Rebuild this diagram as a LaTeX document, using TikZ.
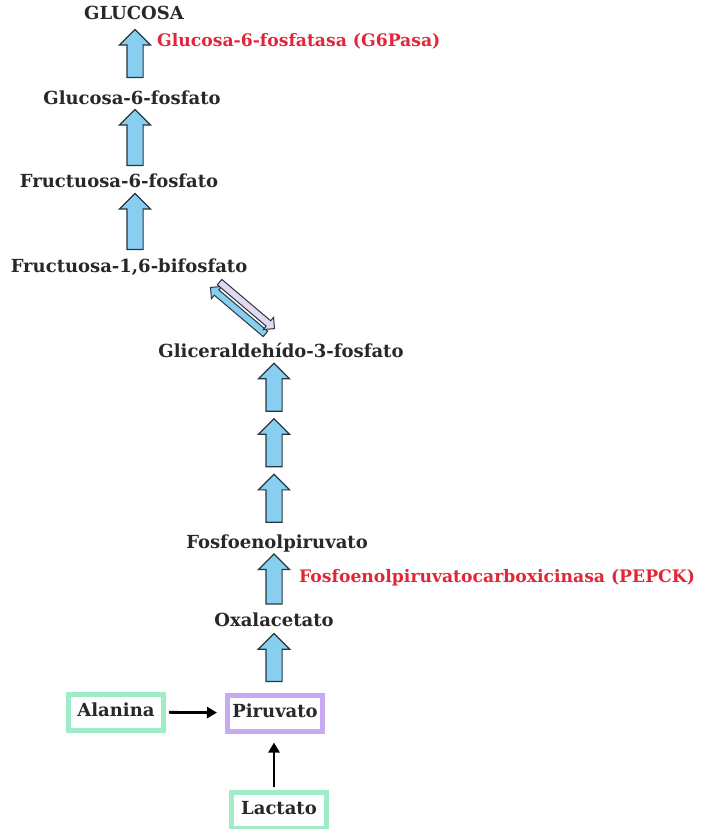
\documentclass[tikz,border=0pt]{standalone}
\usepackage{fontspec}
\setmainfont{DejaVu Serif}
\usetikzlibrary{shapes.arrows,arrows.meta}
\definecolor{texto}{RGB}{40,40,40}
\definecolor{enzrojo}{RGB}{226,38,56}
\definecolor{celeste}{RGB}{135,206,240}
\definecolor{lila}{RGB}{226,216,242}
\definecolor{borde}{RGB}{40,55,62}
\definecolor{menta}{RGB}{160,236,200}
\definecolor{violeta}{RGB}{200,170,240}
\tikzset{
  metab/.style={font=\fontsize{18}{20}\selectfont\bfseries, text=texto, inner sep=0pt, text height=13pt, text depth=4pt},
  enzima/.style={metab, font=\fontsize{17.2}{20}\selectfont\bfseries, text=enzrojo, anchor=west},
  caja/.style={metab, draw=#1, line width=5pt, minimum width=95pt, minimum height=36pt},
  flechaup/.style={single arrow, draw=borde, fill=celeste, line width=1.2pt, inner sep=0pt,
    text height=15pt, text depth=0pt, minimum width=30pt, single arrow head extend=7.5pt,
    minimum height=#1, rotate=90},
  flechaup/.default=50pt,
  flechafina/.style={single arrow, draw=borde, fill=#1, line width=1pt, inner sep=0pt,
    text height=6pt, text depth=0pt, minimum width=15pt, single arrow head extend=4.5pt,
    minimum height=72pt, sloped, allow upside down},
  flechanegra/.style={line width=2.8pt, -{Triangle[length=10pt,width=11pt]}}
}
\begin{document}
\begin{tikzpicture}[x=1pt,y=-1pt]
\useasboundingbox (0,0) rectangle (710,829);
\fill[white] (0,0) rectangle (710,829);
\coordinate (ejeA) at (135,0);
\coordinate (ejeB) at (274,0);
\node[metab] (glu) at (134,15) {GLUCOSA};
\node[metab] (g6p) at (132,100) {Glucosa-6-fosfato};
\node[metab] (f6p) at (119,183) {Fructuosa-6-fosfato};
\node[metab] (fbp) at (129,268) {Fructuosa-1,6-bifosfato};
\node[metab] (g3p) at (281,353) {Gliceraldehído-3-fosfato};
\node[metab] (pep) at (277,544) {Fosfoenolpiruvato};
\node[metab] (oaa) at (274,622) {Oxalacetato};
\node[caja=violeta] (pir) at (275,713) {Piruvato};
\node[caja=menta] (ala) at (116,712) {Alanina};
\node[caja=menta] (lac) at (279,810) {Lactato};
\node[enzima] (g6pasa) at (157,42) {Glucosa-6-fosfatasa (G6Pasa)};
\node[enzima] (pepck) at (299,578) {Fosfoenolpiruvatocarboxicinasa (PEPCK)};
\path (g6p.north -| ejeA) -- node[flechaup=48pt] {} (glu.south -| ejeA);
\path (f6p.north -| ejeA) -- node[flechaup=56pt] {} (g6p.south -| ejeA);
\path (fbp.north -| ejeA) -- node[flechaup=56pt] {} (f6p.south -| ejeA);
\coordinate (dA) at (213,283);
\coordinate (dB) at (272,333);
\path ([shift={(-3.2,3.8)}]dB) -- node[flechafina=celeste] {} ([shift={(-3.2,3.8)}]dA);
\path ([shift={(3.2,-3.8)}]dA) -- node[flechafina=lila] {} ([shift={(3.2,-3.8)}]dB);
\path (pep.north -| ejeB) -- node[pos=.19,flechaup=48pt] {} node[pos=.51,flechaup=48pt] {}
  node[pos=.83,flechaup=48pt] {} (g3p.south -| ejeB);
\path (oaa.north -| ejeB) -- node[flechaup] {} (pep.south -| ejeB);
\path (pir.north -| ejeB) -- node[flechaup=48pt] {} (oaa.south -| ejeB);
\draw[flechanegra, shorten <=3pt, shorten >=8pt] (ala) -- (pir);
\draw[flechanegra, shorten <=3pt, shorten >=9pt] (lac.north -| ejeB) -- (pir.south -| ejeB);
\end{tikzpicture}
\end{document}
